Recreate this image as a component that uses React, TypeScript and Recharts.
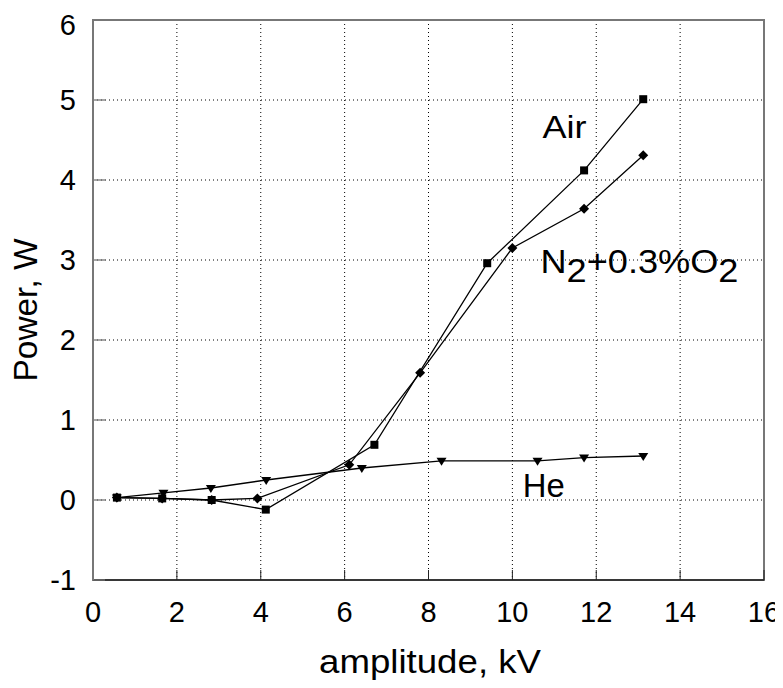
import React from 'react';
import { LineChart, Line, XAxis, YAxis, CartesianGrid, ReferenceDot, ReferenceArea } from 'recharts';

const airX = [0.57, 1.65, 2.83, 4.12, 6.71, 9.4, 11.71, 13.12];
const airY = [0.03, 0.02, 0.0, -0.12, 0.69, 2.96, 4.12, 5.01];
const n2X = [0.57, 1.65, 2.83, 3.92, 6.11, 7.8, 10.0, 11.71, 13.12];
const n2Y = [0.03, 0.02, 0.0, 0.02, 0.44, 1.59, 3.15, 3.64, 4.31];
const heX = [0.57, 1.68, 2.81, 4.13, 6.41, 8.31, 10.6, 11.71, 13.12];
const heY = [0.03, 0.09, 0.15, 0.25, 0.4, 0.49, 0.49, 0.53, 0.55];

const xTicks = [0, 2, 4, 6, 8, 10, 12, 14, 16];
const yTicks = [-1, 0, 1, 2, 3, 4, 5, 6];
const xDomain = [0, 16];
const yDomain = [-1, 6];

const zip = (xs: number[], ys: number[]) => xs.map((x, i) => ({ x, y: ys[i] }));
const airData = zip(airX, airY);
const n2Data = zip(n2X, n2Y);
const heData = zip(heX, heY);

const FONT = 'Liberation Sans, Arial, Helvetica, sans-serif';
const FRAME = '#777';

const SquareDot = (p: any) => (
  <rect key={`s${p.index}`} x={p.cx - 4} y={p.cy - 4} width={8} height={8} fill="#000" />
);
const DiamondDot = (p: any) => (
  <polygon
    key={`d${p.index}`}
    points={`${p.cx},${p.cy - 5} ${p.cx + 5},${p.cy} ${p.cx},${p.cy + 5} ${p.cx - 5},${p.cy}`}
    fill="#000"
  />
);
const TriDot = (p: any) => (
  <polygon
    key={`t${p.index}`}
    points={`${p.cx - 5},${p.cy - 3} ${p.cx + 5},${p.cy - 3} ${p.cx},${p.cy + 5}`}
    fill="#000"
  />
);

const textLabel = (content: React.ReactNode, len: number, size: number) => (p: any) => (
  <text
    x={p.cx}
    y={p.cy}
    fontFamily={FONT}
    fontSize={size}
    fill="#000"
    textAnchor="start"
    textLength={len}
    lengthAdjust="spacingAndGlyphs"
  >
    {content}
  </text>
);

export default function App() {
  return (
    <>
      <style>{'.recharts-surface{overflow:visible}'}</style>
      <LineChart
        width={775}
        height={672}
        margin={{ top: 12, right: 19, bottom: 0, left: 0 }}
        style={{ fontFamily: FONT }}
      >
        <CartesianGrid stroke="#000" strokeDasharray="1 3" strokeWidth={1} />
        <ReferenceArea
          x1={xDomain[0]}
          x2={xDomain[1]}
          y1={yDomain[0]}
          y2={yDomain[1]}
          fill="none"
          fillOpacity={0}
          stroke={FRAME}
          strokeWidth={2}
          ifOverflow="visible"
        />
        <XAxis
          dataKey="x"
          type="number"
          domain={xDomain}
          ticks={xTicks}
          allowDataOverflow
          height={100}
          tickSize={-10}
          tickMargin={31.5}
          tick={{ fill: '#000', fontSize: 29, fontFamily: FONT }}
          axisLine={{ stroke: '#222', strokeWidth: 1.3 }}
          tickLine={{ stroke: '#222', strokeWidth: 1 }}
          label={(props: any) => {
            const vb = props.viewBox;
            return (
              <text
                x={vb.x + vb.width / 2 + 1.5}
                y={vb.y + 93}
                textAnchor="middle"
                fontFamily={FONT}
                fontSize={32.5}
                fill="#000"
                textLength={222}
                lengthAdjust="spacingAndGlyphs"
              >
                amplitude, kV
              </text>
            );
          }}
        />
        <YAxis
          type="number"
          domain={yDomain}
          ticks={yTicks}
          allowDataOverflow
          width={85}
          tickSize={-12}
          tickMargin={29}
          tick={{ fill: '#000', fontSize: 29, fontFamily: FONT }}
          axisLine={{ stroke: FRAME, strokeWidth: 2 }}
          tickLine={{ stroke: FRAME, strokeWidth: 1.3 }}
          label={(props: any) => {
            const vb = props.viewBox;
            const cx = vb.x + 29;
            const cy = vb.y + vb.height / 2 + 10;
            return (
              <text
                x={cx}
                y={cy}
                transform={`rotate(-90, ${cx}, ${cy})`}
                textAnchor="middle"
                fontFamily={FONT}
                fontSize={32.5}
                fill="#000"
                textLength={143}
                lengthAdjust="spacingAndGlyphs"
              >
                Power, W
              </text>
            );
          }}
        />
        <Line
          data={airData}
          dataKey="y"
          type="linear"
          stroke="#000"
          strokeWidth={1.3}
          dot={SquareDot}
          activeDot={false}
          isAnimationActive={false}
        />
        <Line
          data={n2Data}
          dataKey="y"
          type="linear"
          stroke="#000"
          strokeWidth={1.3}
          dot={DiamondDot}
          activeDot={false}
          isAnimationActive={false}
        />
        <Line
          data={heData}
          dataKey="y"
          type="linear"
          stroke="#000"
          strokeWidth={1.3}
          dot={TriDot}
          activeDot={false}
          isAnimationActive={false}
        />
        <ReferenceDot x={10.72} y={4.53} r={1} shape={textLabel('Air', 44, 32)} />
        <ReferenceDot
          x={10.67}
          y={2.84}
          r={1}
          shape={textLabel(
            <>
              N<tspan dy={9}>2</tspan>
              <tspan dy={-9}>+0.3%O</tspan>
              <tspan dy={9}>2</tspan>
            </>,
            198,
            33
          )}
        />
        <ReferenceDot x={10.25} y={0.04} r={1} shape={textLabel('He', 42, 33)} />
      </LineChart>
    </>
  );
}
